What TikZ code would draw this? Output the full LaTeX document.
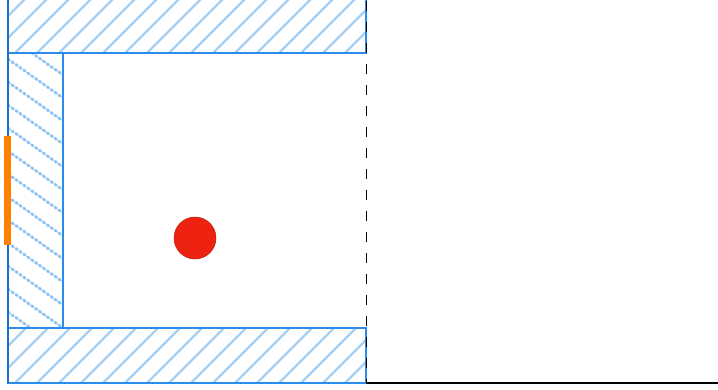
\documentclass[tikz,border=0pt]{standalone}
\definecolor{wallblue}{HTML}{2A8CEB}
\definecolor{walldark}{HTML}{1C6FC8}
\definecolor{hatchblue}{HTML}{A6CFF6}
\definecolor{dotblue}{HTML}{8EC3F4}
\definecolor{barorange}{HTML}{FF8000}
\definecolor{ballred}{HTML}{EE2211}
\tikzset{
  wall/.style={draw=wallblue, line width=1.2pt},
  hatch/.style={hatchblue, line width=2.2pt},
  dothatch/.style={dotblue, line width=2.8pt, dash pattern=on 1.8pt off 3pt, line cap=round},
}
\begin{document}
\begin{tikzpicture}[x=1pt,y=-1pt]
\useasboundingbox (0,0) rectangle (718,389);
% top wall
\begin{scope}
\clip (8,-5) rectangle (366,53);
\foreach \c in {-80,-58,...,380} { \draw[hatch] (\c,60) -- (\c+70,-10); }
\end{scope}
\draw[wall] (8,-5) rectangle (366,53);
% bottom wall
\begin{scope}
\clip (8,328) rectangle (366,383);
\foreach \c in {-80,-58,...,380} { \draw[hatch] (\c,390) -- (\c+70,320); }
\end{scope}
\draw[wall] (8,328) rectangle (366,383);
% left wall
\begin{scope}
\clip (8,53) rectangle (63,328);
\foreach \c in {-10,13,...,340} { \draw[dothatch] (8,\c) -- (63,\c+39); }
\end{scope}
\draw[wall] (8,53) rectangle (63,328);
% outer left edge
\draw[walldark, line width=1.6pt] (8,0) -- (8,383);
% dashed boundary and floor line
\coordinate (dtop) at (366,1);
\coordinate (dbot) at (366,383);
\coordinate (fend) at (718,383);
\draw[black, line width=1pt, dash pattern=on 10pt off 11pt] (dtop) -- (dbot);
\draw[black, line width=1.2pt] (dbot) -- (fend);
% orange bar
\fill[barorange] (4,136) rectangle (11,245);
% red ball
\node[circle, fill=ballred, draw=ballred!80!black, line width=0.5pt, minimum size=42pt, inner sep=0pt] (ball) at (195,238) {};
\end{tikzpicture}
\end{document}
